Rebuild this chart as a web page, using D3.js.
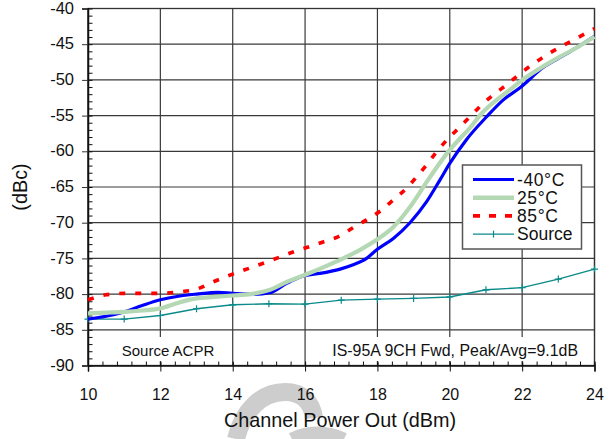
<!DOCTYPE html>
<html>
<head>
<meta charset="utf-8">
<script src="https://cdn.jsdelivr.net/npm/d3@7"></script>
<style>
  html, body { margin: 0; padding: 0; background: #fff; }
  svg { display: block; font-family: "Liberation Sans", Arial, sans-serif; }
</style>
</head>
<body>
<svg id="chart" width="613" height="439"></svg>
<script>
// Channel power out (dBm) tick labels and ACPR (dBc) tick labels
const xTickValues = [10, 12, 14, 16, 18, 20, 22, 24];
const yTickValues = [-40, -45, -50, -55, -60, -65, -70, -75, -80, -85, -90];

// -40 °C trace
const coldX = [10, 10.5, 11, 11.5, 12, 12.5, 13, 13.6, 14, 14.6, 15.03, 15.49, 16.0, 16.41, 16.97, 17.33, 17.7, 17.98, 18.44, 18.9, 19.36, 19.73, 20.0, 20.47, 21.02, 21.48, 21.94, 22.6, 23.0, 23.5, 24];
const coldY = [-83.5, -83.1, -82.5, -81.6, -80.8, -80.3, -80.0, -79.75, -79.9, -80.05, -79.8, -78.5, -77.4, -77.1, -76.5, -75.9, -75.0, -73.8, -72.2, -70.0, -67.05, -64.0, -61.7, -58.3, -55.15, -52.8, -51.1, -48.2, -47.0, -45.5, -43.9];

// 25 °C trace
const roomX = [10, 10.5, 11, 11.5, 12, 12.5, 13, 13.5, 14, 14.5, 15.03, 15.49, 16.0, 16.5, 17.01, 17.52, 17.98, 18.44, 18.9, 19.4, 19.96, 20.28, 20.51, 20.88, 21.3, 21.66, 21.94, 22.49, 23.05, 23.5, 24];
const roomY = [-82.7, -82.6, -82.5, -82.3, -82.0, -81.2, -80.6, -80.4, -80.2, -80.0, -79.4, -78.3, -77.3, -76.25, -75.1, -73.8, -72.4, -70.6, -67.8, -64.0, -60.05, -58.2, -57.0, -54.7, -52.8, -51.4, -50.25, -48.4, -46.75, -45.5, -43.95];

// 85 °C trace
const hotX = [10, 10.5, 11, 12, 12.5, 13, 13.5, 14, 14.5, 15, 15.67, 16.09, 16.5, 16.92, 17.33, 17.7, 18.07, 18.44, 18.8, 19.09, 19.36, 19.64, 19.96, 20.24, 20.56, 20.88, 21.25, 21.57, 21.9, 22.68, 23.46, 24];
const hotY = [-80.8, -80.1, -79.9, -79.9, -79.7, -79.3, -78.2, -77.2, -76.3, -75.4, -74.1, -73.4, -72.7, -71.95, -70.7, -69.6, -68.4, -66.8, -65.2, -63.55, -61.9, -60.05, -58.2, -56.8, -55.15, -53.5, -51.9, -50.7, -49.3, -46.5, -44.3, -42.8];

// Source ACPR, one reading per dBm
const sourceX = [10, 11, 12, 13, 14, 15, 16, 17, 18, 19, 20, 21, 22, 23, 24];
const sourceY = [-83.5, -83.5, -83.0, -82.05, -81.5, -81.35, -81.4, -80.85, -80.7, -80.6, -80.4, -79.4, -79.1, -77.9, -76.5];

const seriesNames = ["-40\u00B0C", "25\u00B0C", "85\u00B0C", "Source"];

(function draw() {
  const svg = d3.select("#chart");
  const pl = 88, pr = 594.5, pt = 8.5, pb = 365.5;

  const x = d3.scaleLinear().domain([10, 24]).range([pl, pr]);
  const y = d3.scaleLinear().domain([-90, -40]).range([pb, pt]);

  // faint logo mark behind the axis title
  const wm = svg.append("g").attr("fill", "none").attr("stroke", "#cdcdcd").attr("stroke-linecap", "butt");
  wm.append("path").attr("d", "M236,439 C243,410 262,392 285,392 C302,392 312,402 314,418").attr("stroke-width", 18);
  wm.append("path").attr("d", "M292,439 C305,432 325,430 344,439").attr("stroke-width", 13);

  // grid
  const grid = svg.append("g").attr("stroke", "#3a3a3a").attr("stroke-width", 1.2);
  grid.selectAll("line.v").data(xTickValues).join("line").attr("class", "v")
    .attr("x1", d => x(d)).attr("x2", d => x(d)).attr("y1", pt).attr("y2", pb);
  grid.selectAll("line.h").data(yTickValues).join("line").attr("class", "h")
    .attr("x1", pl).attr("x2", pr).attr("y1", d => y(d)).attr("y2", d => y(d));

  // note boxes along the bottom mask the grid
  svg.append("rect").attr("x", pl + 1).attr("y", 337).attr("width", 136).attr("height", 24).attr("fill", "#fff");
  svg.append("rect").attr("x", 312).attr("y", 337).attr("width", pr - 313).attr("height", 24).attr("fill", "#fff");
  svg.append("text").attr("x", 168).attr("y", 356).attr("text-anchor", "middle")
    .attr("font-size", 15).attr("fill", "#111").text("Source ACPR");
  svg.append("text").attr("x", 578).attr("y", 356).attr("text-anchor", "end")
    .attr("font-size", 15.9).attr("fill", "#111").text("IS-95A 9CH Fwd, Peak/Avg=9.1dB");

  // frame
  svg.append("rect").attr("x", pl).attr("y", pt).attr("width", pr - pl).attr("height", pb - pt)
    .attr("fill", "none").attr("stroke", "#333").attr("stroke-width", 1.3);

  // minor ticks
  const xMinor = d3.range(0, 36).map(i => 10 + i * 0.4);
  const yMinor = d3.range(-90, -39, 1);
  svg.append("g").attr("transform", `translate(0,${pb})`)
    .call(d3.axisBottom(x).tickValues(xMinor).tickSize(-4).tickFormat(""))
    .call(g => g.select(".domain").remove())
    .call(g => g.selectAll("line").attr("stroke", "#111"));
  svg.append("g").attr("transform", `translate(${pl},0)`)
    .call(d3.axisLeft(y).tickValues(yMinor).tickSize(-4.5).tickFormat(""))
    .call(g => g.select(".domain").remove())
    .call(g => g.selectAll("line").attr("stroke", "#111"));

  // major axes
  const xAxis = svg.append("g").attr("transform", `translate(0,${pb})`)
    .call(d3.axisBottom(x).tickValues(xTickValues).tickSize(6).tickPadding(17).tickFormat(d => String(d)));
  xAxis.select(".domain").attr("stroke", "#111").attr("stroke-width", 1.5);
  xAxis.selectAll(".tick line").attr("stroke", "#111").attr("y1", -3);
  xAxis.selectAll("text").attr("font-size", 16).attr("fill", "#111")
    .attr("font-family", "'Liberation Sans', Arial, sans-serif");

  const yAxis = svg.append("g").attr("transform", `translate(${pl},0)`)
    .call(d3.axisLeft(y).tickValues(yTickValues).tickSize(6).tickPadding(8).tickFormat(d => String(d)));
  yAxis.select(".domain").attr("stroke", "#111").attr("stroke-width", 1.5);
  yAxis.selectAll(".tick line").attr("stroke", "#333");
  yAxis.selectAll("text").attr("font-size", 16.5).attr("fill", "#111").attr("dy", "0.28em")
    .attr("font-family", "'Liberation Sans', Arial, sans-serif");

  // axis titles
  svg.append("text").attr("x", 340).attr("y", 427).attr("text-anchor", "middle")
    .attr("font-size", 19.8).attr("fill", "#111").text("Channel Power Out (dBm)");
  svg.append("text").attr("transform", "translate(27,187) rotate(-90)").attr("text-anchor", "middle")
    .attr("font-size", 19.8).attr("fill", "#111").text("(dBc)");

  // traces
  const plot = svg.append("g");
  const smooth = d3.line().x(d => x(d[0])).y(d => y(d[1])).curve(d3.curveMonotoneX);
  const straight = d3.line().x(d => x(d[0])).y(d => y(d[1]));
  const zip = (a, b) => a.map((v, i) => [v, b[i]]);

  plot.append("path").attr("d", straight(zip(sourceX, sourceY)))
    .attr("fill", "none").attr("stroke", "#0a8a8a").attr("stroke-width", 1.4);
  plot.selectAll("path.mk").data(zip(sourceX, sourceY)).join("path").attr("class", "mk")
    .attr("d", d => `M${x(d[0]) - 3.5},${y(d[1])}h7M${x(d[0])},${y(d[1]) - 3.5}v7`)
    .attr("stroke", "#0a8a8a").attr("stroke-width", 1.2);

  plot.append("path").attr("d", smooth(zip(coldX, coldY)))
    .attr("fill", "none").attr("stroke", "#0000ff").attr("stroke-width", 3.2);
  plot.append("path").attr("d", smooth(zip(roomX, roomY)))
    .attr("fill", "none").attr("stroke", "#b3d8b3").attr("stroke-width", 4.2);
  plot.append("path").attr("d", smooth(zip(hotX, hotY)))
    .attr("fill", "none").attr("stroke", "#ff0000").attr("stroke-width", 3.6).attr("stroke-dasharray", "6,10");

  // legend
  const lg = svg.append("g");
  lg.append("rect").attr("x", 462.5).attr("y", 165).attr("width", 119).attr("height", 84)
    .attr("fill", "#fff").attr("stroke", "#555").attr("stroke-width", 1.5);
  const rowY = i => 179.5 + i * 18.2;
  const styles = [
    { stroke: "#0000ff", w: 3.2, dash: null },
    { stroke: "#b3d8b3", w: 4.6, dash: null },
    { stroke: "#ff0000", w: 3.6, dash: "7,9" },
    { stroke: "#0a8a8a", w: 1.4, dash: null }
  ];
  seriesNames.forEach((name, i) => {
    const s = styles[i];
    lg.append("line").attr("x1", 473).attr("x2", 514).attr("y1", rowY(i)).attr("y2", rowY(i))
      .attr("stroke", s.stroke).attr("stroke-width", s.w).attr("stroke-dasharray", s.dash);
    if (name === "Source") {
      lg.append("line").attr("x1", 493.5).attr("x2", 493.5).attr("y1", rowY(i) - 3.5).attr("y2", rowY(i) + 3.5)
        .attr("stroke", s.stroke).attr("stroke-width", 1.2);
    }
    lg.append("text").attr("x", 517).attr("y", rowY(i)).attr("dy", "0.36em")
      .attr("font-size", 17.5).attr("fill", "#111")
      .attr("letter-spacing", name === "Source" ? 0 : 0.6).text(name);
  });
})();
</script>
</body>
</html>
